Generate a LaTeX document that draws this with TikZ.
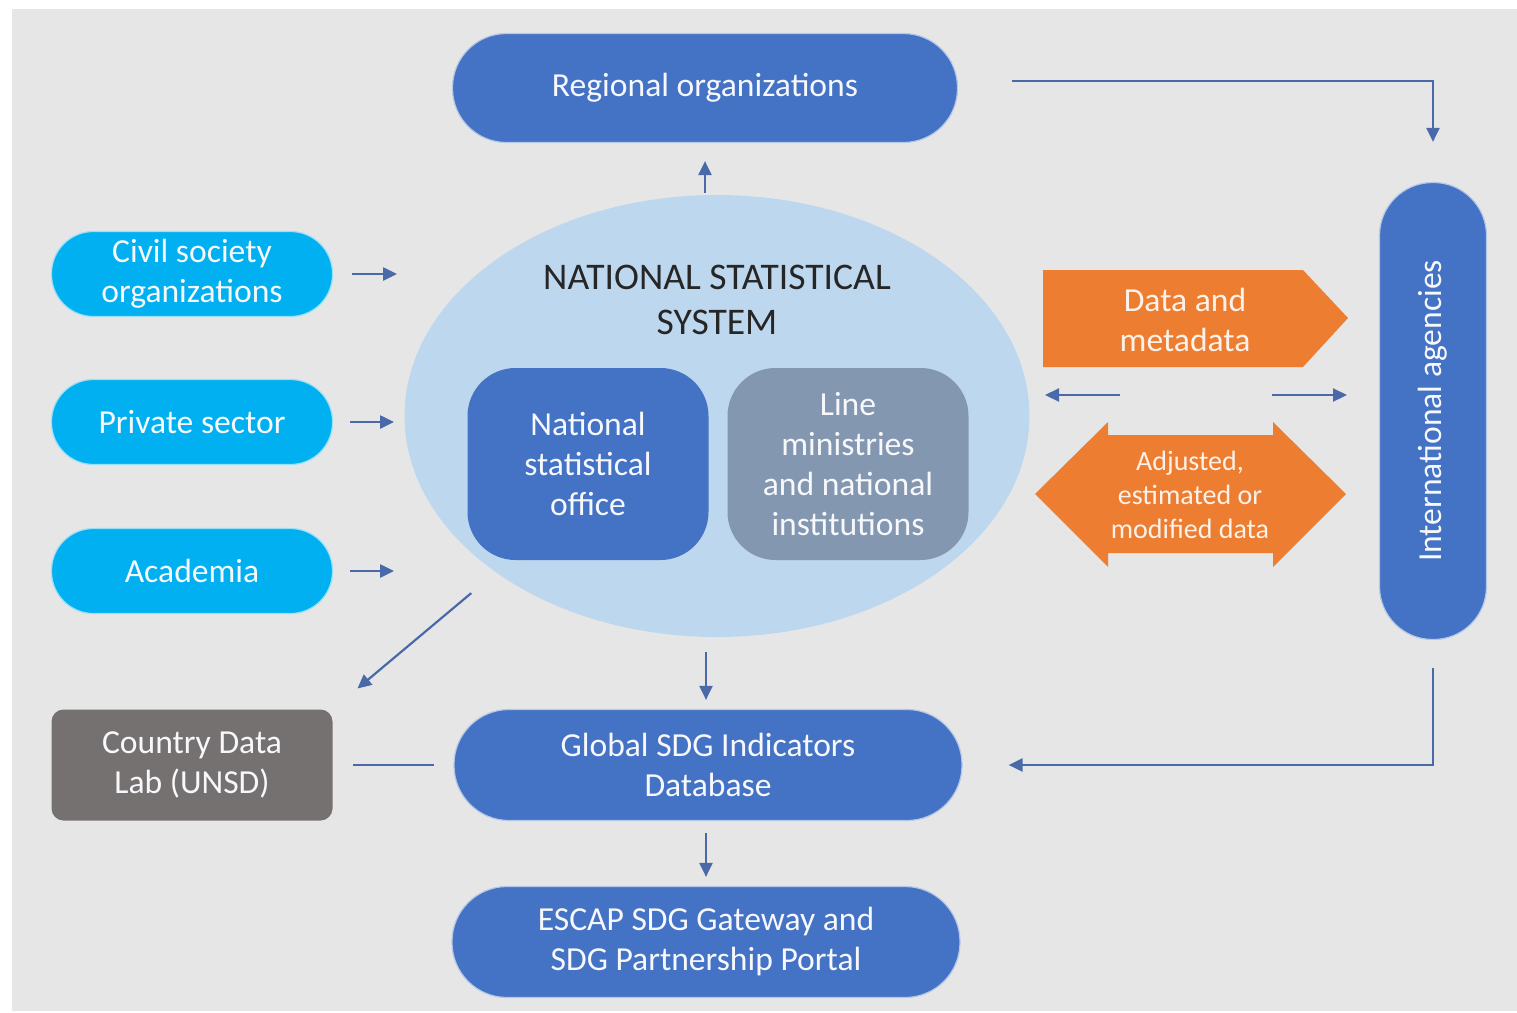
\documentclass[tikz,border=0pt]{standalone}
\usepackage{fontspec}
\setmainfont{Carlito}
\usetikzlibrary{arrows.meta,shapes.geometric,calc}
\definecolor{bg}{HTML}{E7E6E6}
\definecolor{blu}{HTML}{4472C4}
\definecolor{cya}{HTML}{00B0F0}
\definecolor{lblu}{HTML}{BDD7EE}
\definecolor{slate}{HTML}{8497B0}
\definecolor{dgray}{HTML}{767171}
\definecolor{orng}{HTML}{ED7D31}
\definecolor{arrc}{HTML}{4A69A8}
\begin{document}
\begin{tikzpicture}[x=0.5pt,y=-0.5pt,
  txt/.style={font=\fontsize{16.8}{20}\selectfont, text=white!95!blu, align=center, inner sep=0pt},
  pill/.style={txt, fill=blu, draw=blu!40!white, line width=0.6pt, rounded corners=#1},
  cpill/.style={txt, fill=cya, draw=cya!40!white, line width=0.6pt, rounded corners=21pt, minimum width=140.5pt, minimum height=42.5pt},
  inbox/.style={txt, rounded corners=24pt, minimum width=120.5pt, minimum height=96pt},
  arr/.style={draw=arrc, line width=1.1pt, -{Triangle[length=7pt,width=6.5pt]}},
  plain/.style={draw=arrc, line width=1.1pt}
]
\useasboundingbox (0,0) rectangle (1517,1013);
\fill[white] (0,0) rectangle (1517,1013);
\fill[bg] (12,9) rectangle (1517,1011);

% central ellipse
\node[ellipse, fill=lblu, minimum width=312.5pt, minimum height=221pt, inner sep=0pt] (nss) at (717,416) {};
\node[font=\fontsize{18.8}{22.5}\selectfont, text=black!85, align=center, inner sep=0pt] (nsst) at (717,300) {NATIONAL STATISTICAL\\SYSTEM};
\node[inbox, fill=blu] (nso) at (588,464) {National\\statistical\\office};
\node[inbox, fill=slate] (lm) at (848,464) {Line\\ministries\\and national\\institutions};

% top / bottom pills
\node[pill=27pt, minimum width=252.5pt, minimum height=54.5pt] (reg) at (705,88) {Regional organizations};
\node[pill=27.5pt, minimum width=254pt, minimum height=55.5pt] (gsdg) at (708,765) {Global SDG Indicators\\Database};
\node[pill=27.5pt, minimum width=254pt, minimum height=55.5pt] (escap) at (706,942) {ESCAP SDG Gateway and\\SDG Partnership Portal};

% international agencies
\node[pill=26.5pt, minimum width=53.5pt, minimum height=228.5pt] (intl) at (1433,411) {};
\node[txt, rotate=90] (intlt) at (1433,411) {International agencies};

% left column
\node[cpill] (civ) at (192,274) {Civil society\\organizations};
\node[cpill] (priv) at (192,422) {Private sector};
\node[cpill] (acad) at (192,571) {Academia};
\node[txt, fill=dgray, rounded corners=6pt, minimum width=140.5pt, minimum height=55.5pt] (cdl) at (192,765) {Country Data\\Lab (UNSD)};

% orange arrows
\fill[orng] (1043,270) -- (1303,270) -- (1348,318) -- (1303,367) -- (1043,367) -- cycle;
\node[txt, text=white!90!orng] (dm) at (1185,320) {Data and\\metadata};
\fill[orng] (1035,494) -- (1108,422) -- (1108,435) -- (1273,435) -- (1273,422) -- (1346,494)
  -- (1273,567) -- (1273,553) -- (1108,553) -- (1108,567) -- cycle;
\node[txt, text=white!90!orng, font=\fontsize{14}{17}\selectfont] (adj) at (1190,495) {Adjusted,\\estimated or\\modified data};

% connectors
\draw[arr, shorten <=1pt, shorten >=9pt] (reg.south |- nss.north) -- (reg.south);
\coordinate (rs) at (1012,81);
\draw[arr, shorten >=20pt] (rs) -| (intl.north);
\draw[arr, shorten <=9.5pt, shorten >=3.5pt] (civ.east) -- (civ.east -| nss.west);
\draw[arr, shorten <=8.5pt, shorten >=5pt] (priv.east) -- (priv.east -| nss.west);
\draw[arr, shorten <=8.5pt, shorten >=5pt] (acad.east) -- (acad.east -| nss.west);
\draw[arr, shorten <=7.5pt, shorten >=4.5pt] (escap.north |- nss.south) -- (escap.north |- gsdg.north);
\draw[arr, shorten <=16pt, shorten >=16pt] (nss.south west) -- (cdl.north east);
\draw[plain, shorten <=10pt, shorten >=9.5pt] (cdl.east) -- (gsdg.west);
\draw[arr, shorten <=14pt, shorten >=23pt] (intl.south) |- (gsdg.east);
\draw[arr, shorten <=6pt, shorten >=4.5pt] (escap.north |- gsdg.south) -- (escap.north);
\coordinate (l1) at (1120,395);
\coordinate (l2) at (1045,395);
\coordinate (r1) at (1272,395);
\coordinate (r2) at (1347,395);
\draw[arr] (l1) -- (l2);
\draw[arr] (r1) -- (r2);
\end{tikzpicture}
\end{document}
